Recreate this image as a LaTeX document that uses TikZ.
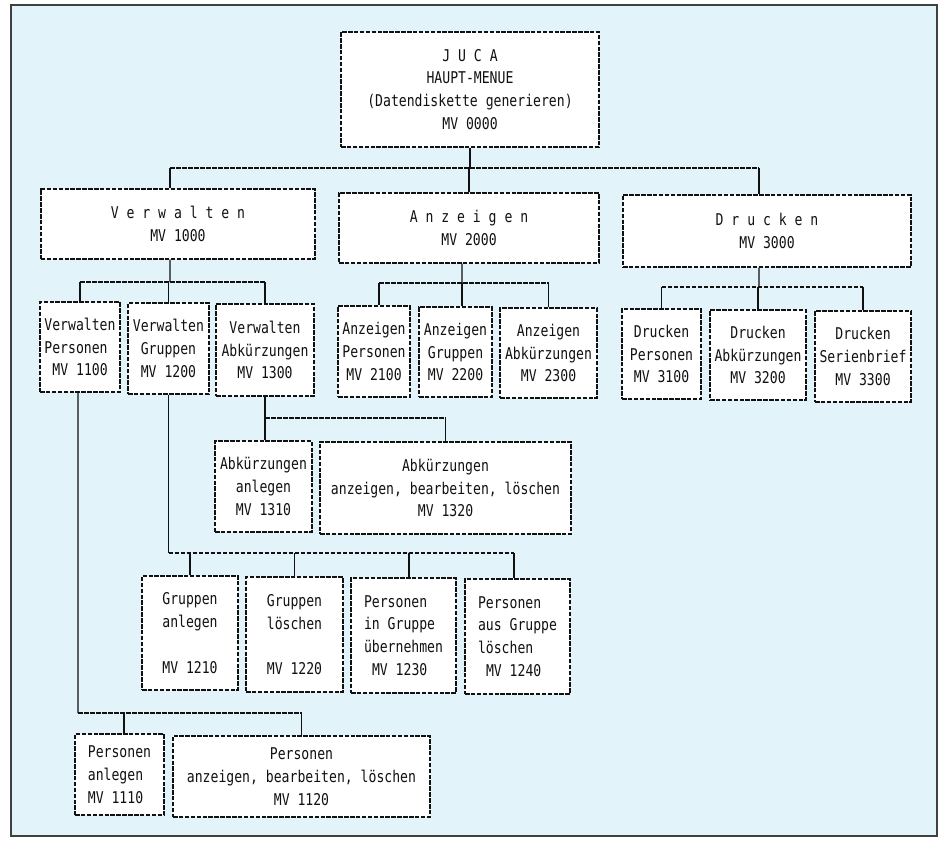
\documentclass[tikz,border=0pt]{standalone}
\usepackage{fontspec}
\newfontfamily\dotfont{DejaVu Sans Mono}[FakeStretch=0.81]
\definecolor{panelbg}{HTML}{E2F3F9}
\definecolor{ink}{HTML}{111111}
\newcommand{\ind}{\hspace*{8bp}}
\begin{document}
\begin{tikzpicture}[x=1bp,y=-1bp,
  box/.style={draw=ink, line width=1.3bp, dash pattern=on 4.5bp off 1.4bp, fill=white,
    inner sep=0pt, align=center, text=ink,
    font=\dotfont\fontsize{16.2bp}{22.8bp}\selectfont},
  lbox/.style={box, align=left},
  conn/.style={draw=ink, line width=1.2bp},
  hconn/.style={conn, dash pattern=on 4.5bp off 1.5bp}]
\useasboundingbox (0,0) rectangle (945,842);
\fill[panelbg] (11,5) rectangle (937,836);
\draw[draw=black!75, line width=1.6bp] (11,5) rectangle (937,836);

% level 0
\node[box, minimum width=258bp, minimum height=115bp] (root) at (470,89.5)
  {J U C A\\HAUPT-MENUE\\(Datendiskette generieren)\\MV 0000};
% level 1
\node[box, minimum width=274bp, minimum height=70bp] (V) at (178,224) {V e r w a l t e n\\MV 1000};
\node[box, minimum width=260bp, minimum height=70bp] (A) at (469,228) {A n z e i g e n\\MV 2000};
\node[box, minimum width=288bp, minimum height=72bp] (D) at (767,231) {D r u c k e n\\MV 3000};
% level 2
\node[lbox, minimum width=80bp, minimum height=90bp] (VP) at (80,347) {Verwalten\\Personen\\\ind MV 1100};
\node[box, minimum width=81bp, minimum height=91bp] (VG) at (168.5,348.5) {Verwalten\\Gruppen\\MV 1200};
\node[box, minimum width=98bp, minimum height=92bp] (VA) at (265,350) {Verwalten\\Abkürzungen\\MV 1300};
\node[box, minimum width=72bp, minimum height=91bp] (AP) at (374,351.5) {Anzeigen\\Personen\\MV 2100};
\node[box, minimum width=73bp, minimum height=90bp] (AG) at (455.5,352) {Anzeigen\\Gruppen\\MV 2200};
\node[box, minimum width=97bp, minimum height=90bp] (AA) at (548.5,353) {Anzeigen\\Abkürzungen\\MV 2300};
\node[box, minimum width=79bp, minimum height=90bp] (DP) at (661.5,354) {Drucken\\Personen\\MV 3100};
\node[box, minimum width=96bp, minimum height=90bp] (DA) at (758,355) {Drucken\\Abkürzungen\\MV 3200};
\node[box, minimum width=96bp, minimum height=91bp] (DS) at (863,356.5) {Drucken\\Serienbrief\\MV 3300};
% level 3
\node[box, minimum width=97bp, minimum height=91bp] (A1310) at (263.5,486.5) {Abkürzungen\\anlegen\\MV 1310};
\node[box, minimum width=251bp, minimum height=92bp] (A1320) at (445.5,488) {Abkürzungen\\anzeigen, bearbeiten, löschen\\MV 1320};
\node[box, minimum width=96bp, minimum height=114bp] (G1210) at (190,633) {Gruppen\\anlegen\\[22.8bp]MV 1210};
\node[box, minimum width=97bp, minimum height=115bp] (G1220) at (294.5,634.5) {Gruppen\\löschen\\[22.8bp]MV 1220};
\node[lbox, minimum width=105bp, minimum height=115bp] (P1230) at (403.5,635.5) {Personen\\in Gruppe\\übernehmen\\\ind MV 1230};
\node[lbox, minimum width=105bp, minimum height=115bp] (P1240) at (517.5,636.5) {Personen\\aus Gruppe\\löschen\\\ind MV 1240};
\node[lbox, minimum width=89bp, minimum height=81bp] (P1110) at (119.5,774.5) {Personen\\anlegen\\MV 1110};
\node[box, minimum width=257bp, minimum height=81bp] (P1120) at (301.5,776.5) {Personen\\anzeigen, bearbeiten, löschen\\MV 1120};

% junctions
\coordinate (j0) at (470,168);
\coordinate (j1) at (170,282);
\coordinate (j2) at (462,283);
\coordinate (j3) at (759,287);
\coordinate (j4) at (265,418);
\coordinate (j5) at (168.5,553);
\coordinate (j6) at (78,713);

% root -> level 1
\draw[conn] (root.south) -- (j0);
\draw[hconn] ([xshift=-8bp]V.north |- j0) -- ([xshift=-8bp]D.north |- j0);
\draw[conn] ([xshift=-8bp]V.north |- j0) -- ([xshift=-8bp]V.north);
\draw[conn] (A.north |- j0) -- (A.north);
\draw[conn] ([xshift=-8bp]D.north |- j0) -- ([xshift=-8bp]D.north);

% Verwalten
\draw[conn] ([xshift=-8bp]V.south) -- (j1);
\draw[hconn] (VP.north |- j1) -- (VA.north |- j1);
\draw[conn] (VP.north |- j1) -- (VP.north);
\draw[conn] (VG.north |- j1) -- (VG.north);
\draw[conn] (VA.north |- j1) -- (VA.north);

% Anzeigen
\draw[conn] ([xshift=-7bp]A.south) -- (j2);
\draw[hconn] ([xshift=5bp]AP.north |- j2) -- (AA.north |- j2);
\draw[conn] ([xshift=5bp]AP.north |- j2) -- ([xshift=5bp]AP.north);
\draw[conn] ([xshift=6.5bp]AG.north |- j2) -- ([xshift=6.5bp]AG.north);
\draw[conn] (AA.north |- j2) -- (AA.north);

% Drucken
\draw[conn] ([xshift=-8bp]D.south) -- (j3);
\draw[hconn] (DP.north |- j3) -- (DS.north |- j3);
\draw[conn] (DP.north |- j3) -- (DP.north);
\draw[conn] (DA.north |- j3) -- (DA.north);
\draw[conn] (DS.north |- j3) -- (DS.north);

% Verwalten Abkuerzungen
\draw[conn] (VA.south) -- (VA.south |- A1310.north);
\draw[hconn] (j4) -- (A1320.north |- j4);
\draw[conn] (A1320.north |- j4) -- (A1320.north);

% Verwalten Gruppen
\draw[conn] (VG.south) -- (j5);
\draw[hconn] (j5) -- ([xshift=-3.5bp]P1240.north |- j5);
\draw[conn] (G1210.north |- j5) -- (G1210.north);
\draw[conn] (G1220.north |- j5) -- (G1220.north);
\draw[conn] ([xshift=5.5bp]P1230.north |- j5) -- ([xshift=5.5bp]P1230.north);
\draw[conn] ([xshift=-3.5bp]P1240.north |- j5) -- ([xshift=-3.5bp]P1240.north);

% Verwalten Personen
\draw[conn] ([xshift=-2bp]VP.south) -- (j6);
\draw[hconn] (j6) -- (P1120.north |- j6);
\draw[conn] ([xshift=4.5bp]P1110.north |- j6) -- ([xshift=4.5bp]P1110.north);
\draw[conn] (P1120.north |- j6) -- (P1120.north);
\end{tikzpicture}
\end{document}
